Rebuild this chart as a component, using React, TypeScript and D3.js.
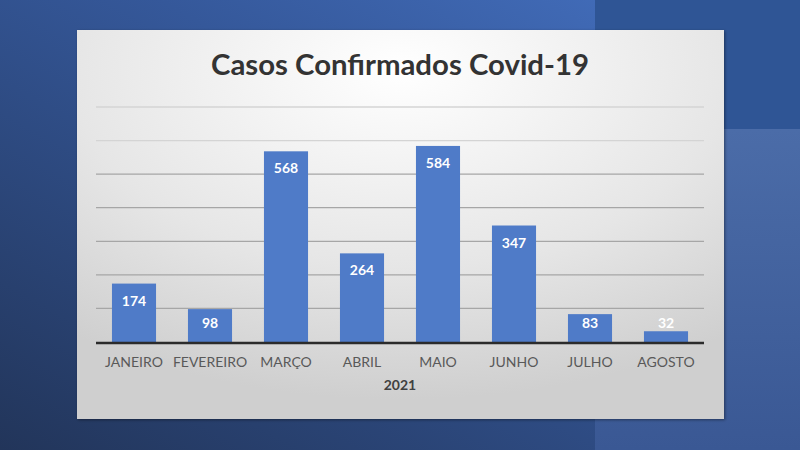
import { scaleBand, scaleLinear } from "d3";

const months = ["JANEIRO", "FEVEREIRO", "MARÇO", "ABRIL", "MAIO", "JUNHO", "JULHO", "AGOSTO"];
const cases = [174, 98, 568, 264, 584, 347, 83, 32];
const gridTicks = [0, 100, 200, 300, 400, 500, 600, 700];
const title = "Casos Confirmados Covid-19";
const yearLabel = "2021";

export default function App() {
    const W = 800;
    const H = 450;
    // chart panel and plot area
    const panel = { x: 77, y: 30, w: 647, h: 389 };
    const plotLeft = 96;
    const plotRight = 704;
    const plotTop = 107;
    const plotBottom = 342;

    const x = scaleBand<string>()
        .domain(months)
        .range([plotLeft, plotRight])
        .paddingInner(0.42)
        .paddingOuter(0.21);
    const y = scaleLinear().domain([0, 700]).range([plotBottom, plotTop]);

    const font = "Lato, 'Open Sans', sans-serif";

    return (
        <svg width={W} height={H} style={{ position: "absolute", left: 0, top: 0 }}>
            <defs>
                <linearGradient id="bg" x1="1" y1="0" x2="0" y2="1">
                    <stop offset="0%" stopColor="#4673c4" />
                    <stop offset="40%" stopColor="#35589a" />
                    <stop offset="100%" stopColor="#22355a" />
                </linearGradient>
                <linearGradient id="bgRight" x1="0" y1="0" x2="0" y2="1">
                    <stop offset="0%" stopColor="#4b6ca8" />
                    <stop offset="100%" stopColor="#3a5894" />
                </linearGradient>
                <radialGradient id="panelFill" cx="0.5" cy="0.1" r="0.85">
                    <stop offset="0%" stopColor="#ffffff" />
                    <stop offset="60%" stopColor="#e6e6e6" />
                    <stop offset="100%" stopColor="#cfcfcf" />
                </radialGradient>
                <filter id="shadow" x="-5%" y="-5%" width="110%" height="110%">
                    <feDropShadow dx="1" dy="1" stdDeviation="1.5" floodOpacity="0.4" />
                </filter>
            </defs>

            {/* slide background */}
            <rect x={0} y={0} width={W} height={H} fill="url(#bg)" />
            <rect x={595} y={0} width={205} height={129} fill="#2f5595" />
            <rect x={595} y={129} width={205} height={H - 129} fill="url(#bgRight)" />

            {/* chart panel */}
            <rect x={panel.x} y={panel.y} width={panel.w} height={panel.h} fill="url(#panelFill)" filter="url(#shadow)" />

            <text x={400} y={75} textAnchor="middle" fontFamily={font} fontWeight="bold" fontSize={28}
                fill="#333333" textLength={378} lengthAdjust="spacingAndGlyphs">
                {title}
            </text>

            {/* gridlines */}
            {gridTicks.slice(1).map(t => (
                <line key={t} x1={plotLeft} x2={plotRight} y1={y(t)} y2={y(t)}
                    stroke={t >= 600 ? "#d4d4d4" : "#a6a6a6"} strokeWidth={1.3} />
            ))}

            {/* bars */}
            {cases.map((v, i) => (
                <rect key={months[i]} x={x(months[i])} y={y(v)} width={x.bandwidth()} height={y(0) - y(v)} fill="#4f7bc8" />
            ))}

            {/* value labels */}
            {cases.map((v, i) => {
                const cy = Math.min(y(v) + 17, y(0) - 19);
                return (
                    <text key={"l" + i} x={(x(months[i]) ?? 0) + x.bandwidth() / 2} y={cy + 5}
                        textAnchor="middle" fontFamily={font} fontWeight="bold" fontSize={14} fill="#ffffff">
                        {v}
                    </text>
                );
            })}

            {/* baseline */}
            <line x1={plotLeft} x2={plotRight} y1={y(0) + 1} y2={y(0) + 1} stroke="#2b2b2b" strokeWidth={2.5} />

            {/* category labels */}
            {months.map(m => (
                <text key={m} x={(x(m) ?? 0) + x.bandwidth() / 2} y={367} textAnchor="middle"
                    fontFamily={font} fontSize={14} fill="#595959">
                    {m}
                </text>
            ))}

            <text x={400} y={390} textAnchor="middle" fontFamily={font} fontWeight="bold" fontSize={14} fill="#404040">
                {yearLabel}
            </text>
        </svg>
    );
}
